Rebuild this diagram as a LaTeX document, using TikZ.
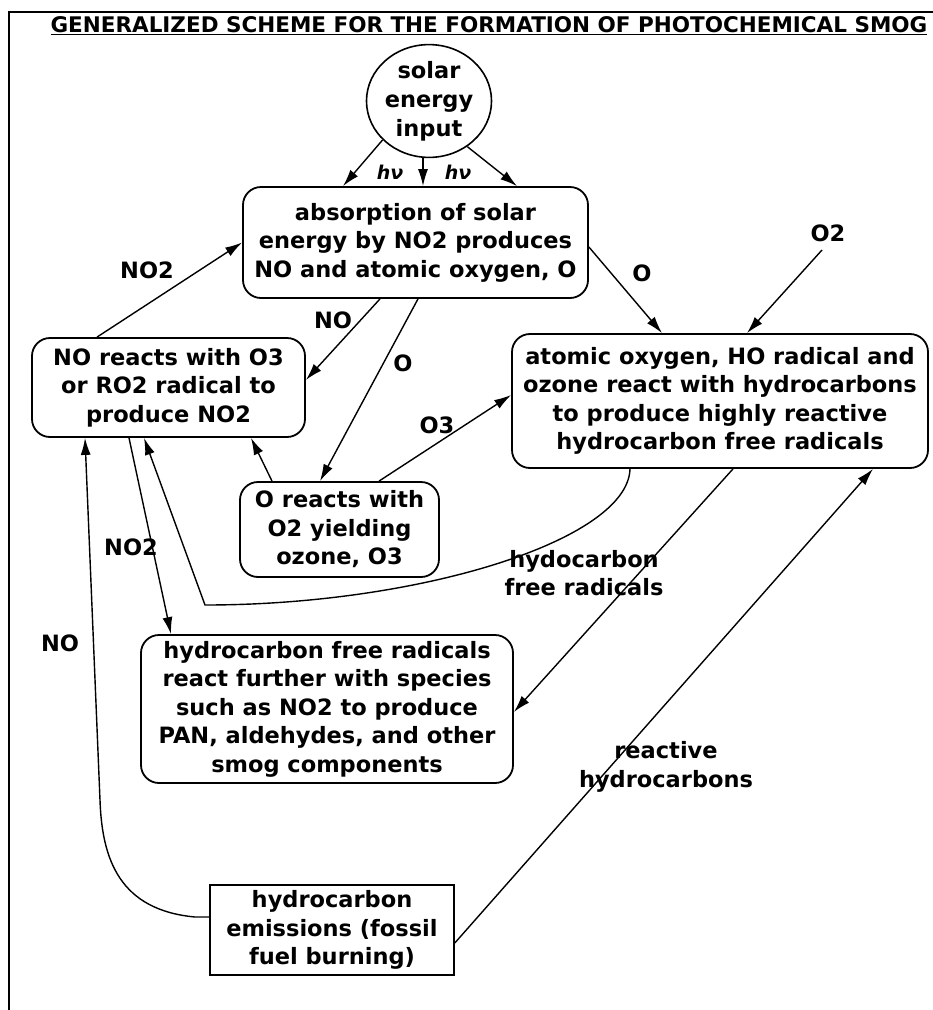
\documentclass[tikz,border=0pt]{standalone}
\usepackage{fontspec}
\setmainfont{DejaVu Sans}
\usetikzlibrary{shapes.geometric,arrows.meta}
\newcommand\smogboxfont{\fontsize{22.5}{28.5}\selectfont\bfseries}
\newcommand\smoglabfont{\fontsize{22.5}{28.5}\selectfont\bfseries}
\tikzset{
  box/.style={draw, line width=1.8pt, rounded corners=18pt, align=center, inner sep=0pt, font=\smogboxfont},
  sqbox/.style={draw, line width=1.6pt, align=center, inner sep=0pt, font=\smogboxfont},
  lab/.style={inner sep=0pt, align=center, font=\smoglabfont},
  hnu/.style={inner sep=0pt, font=\fontsize{19}{19}\selectfont\bfseries\itshape},
  conn/.style={line width=1.4pt, -{Latex[length=17pt,width=10pt]}},
  frame/.style={line width=1.5pt}
}
\begin{document}
\begin{tikzpicture}[x=1pt,y=-1pt]
\useasboundingbox (0,0) rectangle (933,1010);
% frame
\draw[frame] (933,12) -- (9,12) -- (9,1010);
% title
\node[inner sep=0pt, font=\fontsize{21.5}{23}\selectfont\bfseries] (T) at (489,26)
  {\underline{GENERALIZED SCHEME FOR THE FORMATION OF PHOTOCHEMICAL SMOG}};
% solar input
\node[ellipse, draw, line width=1.6pt, minimum width=114pt, minimum height=96pt, inner sep=0pt, align=center,
  font=\fontsize{22.5}{29}\selectfont\bfseries] (S) at (429,101) {solar\\energy\\input};
% boxes
\node[box, minimum width=345pt, minimum height=111pt] (A) at (415.5,242.5)
  {absorption of solar\\energy by NO2 produces\\NO and atomic oxygen, O};
\node[box, minimum width=273pt, minimum height=99pt] (B) at (168.5,387.5)
  {NO reacts with O3\\or RO2 radical to\\produce NO2};
\node[box, minimum width=416pt, minimum height=134pt] (C) at (720,401)
  {atomic oxygen, HO radical and\\ozone react with hydrocarbons\\to produce highly reactive\\hydrocarbon free radicals};
\node[box, minimum width=199pt, minimum height=95pt] (D) at (339.5,529.5)
  {O reacts with\\O2 yielding\\ozone, O3};
\node[box, minimum width=372pt, minimum height=148pt] (E) at (327,709)
  {hydrocarbon free radicals\\react further with species\\such as NO2 to produce\\PAN, aldehydes, and other\\smog components};
\node[sqbox, minimum width=244pt, minimum height=90pt] (F) at (332,930)
  {hydrocarbon\\emissions (fossil\\fuel burning)};
% solar arrows
\draw[conn] (S.220) -- ([xshift=-72.5pt]A.north);
\draw[conn] ([xshift=-6pt]S.south) -- ([xshift=7.5pt]A.north);
\draw[conn] (S.-50) -- ([xshift=101.5pt]A.north);
\node[hnu] (h1) at (390,172) {hν};
\node[hnu] (h2) at (458,172) {hν};
% B -> A  (NO2)
\draw[conn] ([xshift=-71.5pt]B.north) -- (A.west);
\node[lab] (l1) at (147,270) {NO2};
% A -> B (NO)
\draw[conn] ([xshift=-35.5pt]A.south) -- ([yshift=7.5pt]B.east);
\node[lab] (l2) at (333,320) {NO};
% A -> D (O)
\draw[conn] ([xshift=2.5pt]A.south) -- ([xshift=-19.5pt]D.north);
\node[lab] (l3) at (403,363) {O};
% A -> C (O)
\draw[conn] ([yshift=-4.5pt]A.east) -- ([xshift=-58pt]C.north);
\node[lab] (l4) at (642,273) {O};
% O2 -> C
\coordinate (o2s) at (822,250);
\draw[conn] (o2s) -- ([xshift=27pt]C.north);
\node[lab] (l5) at (828,233) {O2};
% D -> C (O3)
\draw[conn] ([xshift=39.5pt]D.north) -- ([yshift=6pt]C.west);
\node[lab] (l6) at (437,425) {O3};
% D -> B
\draw[conn] ([xshift=-67.5pt]D.north) -- ([xshift=82.5pt]B.south);
% B -> E (NO2)
\draw[conn] ([xshift=-39.5pt]B.south) -- ([xshift=-156pt]E.north);
\node[lab] (l7) at (131,547) {NO2};
% C -> B (hydrocarbon free radicals)
\draw[conn] ([xshift=-90pt]C.south) .. controls (628,540) and (420,605) .. (205,605) -- ([xshift=-24.5pt]B.south);
\node[lab] (l8) at (584,573) {hydocarbon\\free radicals};
% C -> E
\draw[conn] ([xshift=13pt]C.south) -- ([yshift=-3pt]E.east);
% F -> C (reactive hydrocarbons)
\draw[conn] ([yshift=-13pt]F.east) -- ([xshift=153pt]C.south);
\node[lab] (l9) at (666,767) {reactive\\hydrocarbons};
% F -> B (NO)
\draw[conn] ([yshift=13pt]F.west) -- (195,917) .. controls (120,910) and (102,860) .. (100,800) -- ([xshift=-83.5pt]B.south);
\node[lab] (l10) at (60,643) {NO};
\end{tikzpicture}
\end{document}
